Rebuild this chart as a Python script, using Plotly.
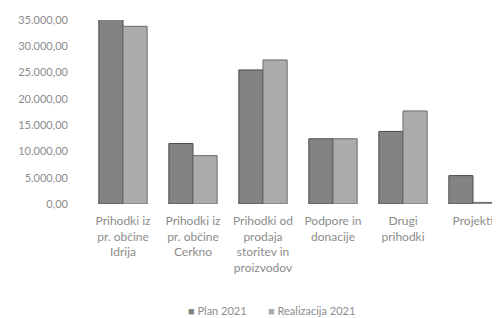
import plotly.graph_objects as go

categories = [
    "Prihodki iz<br>pr. občine<br>Idrija",
    "Prihodki iz<br>pr. občine<br>Cerkno",
    "Prihodki od<br>prodaja<br>storitev in<br>proizvodov",
    "Podpore in<br>donacije",
    "Drugi<br>prihodki",
    "Projekti",
]
plan_2021 = [35300, 11500, 25500, 12400, 13800, 5400]
real_2021 = [33800, 9200, 27400, 12400, 17700, 300]
series_names = ["Plan 2021", "Realizacija 2021"]

tick_vals = [0, 5000, 10000, 15000, 20000, 25000, 30000, 35000]
tick_text = ["0,00", "5.000,00", "10.000,00", "15.000,00", "20.000,00",
             "25.000,00", "30.000,00", "35.000,00"]

font_family = "Lato, 'Open Sans', sans-serif"
text_color = "#8c8c8c"
plan_color = "#838383"
real_color = "#ababab"

# the page body adds an 8px margin; the figure is sized to fill the rest of the window
fig = go.Figure()
fig.add_trace(go.Bar(
    x=list(range(len(categories))), y=plan_2021, name=series_names[0], showlegend=False,
    marker=dict(color=plan_color, line=dict(color="#4a4a4a", width=1)),
))
fig.add_trace(go.Bar(
    x=list(range(len(categories))), y=real_2021, name=series_names[1], showlegend=False,
    marker=dict(color=real_color, line=dict(color="#6a6a6a", width=1)),
))

legend_items = [
    (0.2379, plan_color, series_names[0]),
    (0.4320, real_color, series_names[1]),
]
for xpos, col, name in legend_items:
    fig.add_annotation(
        x=xpos, y=-0.5815, xref="paper", yref="paper", xanchor="left", yanchor="middle",
        showarrow=False,
        text=f"<span style='color:{col}'>■</span> {name}",
        font=dict(size=11, color=text_color, family=font_family),
    )

fig.update_layout(
    width=492, height=310,
    margin=dict(l=80, r=0, t=12, b=114, autoexpand=False),
    paper_bgcolor="white", plot_bgcolor="white",
    barmode="group", bargap=0.31, bargroupgap=0.0,
    font=dict(family=font_family, size=11, color=text_color),
    showlegend=False,
    xaxis=dict(
        tickmode="array", tickvals=list(range(len(categories))), ticktext=categories,
        range=[-0.5, 5.386], showgrid=False, zeroline=False, showline=False,
        ticks="", tickangle=0, tickfont=dict(size=12, color=text_color),
        ticklabelstandoff=8, automargin=False,
    ),
    yaxis=dict(
        range=[0, 35000], tickmode="array", tickvals=tick_vals, ticktext=tick_text,
        showgrid=False, zeroline=False, showline=False, ticks="",
        tickfont=dict(size=11, color=text_color),
        ticklabelstandoff=19, automargin=False,
    ),
)

fig.write_html("out.html")
